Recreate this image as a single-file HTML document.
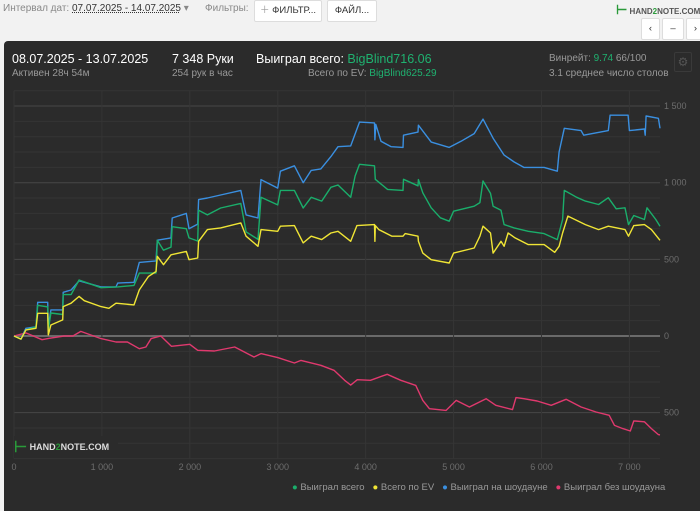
<!DOCTYPE html>
<html><head><meta charset="utf-8">
<style>
body{margin:0;width:700px;height:502px;overflow:hidden;background:#f2f2f2;font-family:"Liberation Sans","Noto Sans CJK SC",sans-serif;position:relative}
.abs{position:absolute;white-space:nowrap}
.top{font-size:10px;color:#888}
.btn{position:absolute;background:#fff;border:1px solid #ddd;border-radius:2px;font-size:9.5px;color:#333;text-align:center;line-height:20px;height:20px}
#panel{position:absolute;left:4px;top:41px;width:700px;height:470px;background:#2b2b2b;border-radius:4px 0 0 0}
.w{color:#fff}.g{color:#1fb270}.gr{color:#999}
</style></head><body>
<div class="abs top" style="left:3px;top:3px">Интервал дат: <span style="color:#333;text-decoration:underline dotted">07.07.2025 - 14.07.2025</span> ▾</div>
<div class="abs top" style="left:205px;top:3px">Фильтры:</div>
<div class="btn" style="left:254px;top:0;width:66px"><span style="color:#999">＋</span> ФИЛЬТР...</div>
<div class="btn" style="left:327px;top:0;width:48px">ФАЙЛ...</div>
<div class="abs" style="left:616px;top:2px;font-size:8px;font-weight:bold;color:#555"><span style="color:#2a9a3a;font-size:13px">⊢</span> HAND<span style="color:#2a9a3a">2</span>NOTE.COM</div>
<div class="btn" style="left:641px;top:18px;width:17px">‹</div>
<div class="btn" style="left:662px;top:18px;width:20px">–</div>
<div class="btn" style="left:686px;top:18px;width:17px">›</div>
<div id="panel"></div>
<div class="abs w" style="left:12px;top:52px;font-size:12.5px">08.07.2025 - 13.07.2025</div>
<div class="abs gr" style="left:12px;top:68px;font-size:10px">Активен 28ч 54м</div>
<div class="abs w" style="left:172px;top:52px;font-size:12.5px">7 348 Руки</div>
<div class="abs gr" style="left:172px;top:68px;font-size:10px">254 рук в час</div>
<div class="abs w" style="left:256px;top:52px;font-size:12.5px">Выиграл всего: <span class="g">BigBlind716.06</span></div>
<div class="abs gr" style="left:308px;top:68px;font-size:10px">Всего по EV: <span class="g">BigBlind625.29</span></div>
<div class="abs gr" style="left:549px;top:53px;font-size:10px">Винрейт: <span class="g">9.74</span> 66/100</div>
<div class="abs gr" style="left:549px;top:68px;font-size:10px">3.1 среднее число столов</div>
<div class="abs" style="left:674px;top:52px;width:16px;height:18px;border:1px solid #3a3a3a;border-radius:2px;color:#555;font-size:12px;text-align:center;line-height:18px">⚙</div>
<svg id="chart" class="abs" style="left:0;top:0" width="700" height="502"></svg>
<script>
const xTicks=[0,1000,2000,3000,4000,5000,6000,7000];
const yTicks=[1500,1000,500,0,-500];
const blueH=[0,80,135,250,270,383,390,420,554,560,650,740,990,1160,1180,1365,1425,1615,1630,1786,1800,1960,1990,2090,2100,2200,2350,2580,2640,2775,2810,3000,3030,3190,3290,3380,3490,3605,3685,3830,3930,4100,4105,4115,4175,4290,4425,4430,4595,4600,4745,4950,5085,5235,5335,5450,5575,5690,5800,6030,6180,6200,6260,6450,6480,6760,6780,6985,7000,7170,7180,7190,7330,7348];
const blueV=[0,-20,50,60,220,220,60,170,170,285,300,360,320,320,345,350,480,490,625,640,770,800,700,730,890,900,920,950,790,770,1020,965,1075,1110,1000,1080,1090,1170,1235,1240,1395,1390,1280,1380,1270,1235,1230,1310,1330,1375,1265,1230,1270,1320,1415,1290,1180,1135,1100,1100,1075,1200,1355,1340,1310,1340,1440,1440,1340,1350,1310,1435,1420,1355];
const greenH=[0,80,135,250,270,383,390,420,554,560,650,740,990,1180,1365,1425,1615,1630,1700,1786,1800,1960,1990,2090,2100,2200,2350,2580,2640,2775,2810,3000,3030,3190,3290,3380,3500,3605,3685,3830,3880,3930,4100,4110,4250,4425,4430,4595,4600,4650,4745,4850,4950,5000,5235,5300,5335,5420,5450,5540,5575,5690,5850,6030,6180,6240,6260,6400,6500,6650,6760,6850,6950,6990,7050,7170,7200,7300,7348];
const greenV=[0,-20,40,60,200,190,40,150,140,270,270,365,315,320,330,410,410,625,560,580,713,700,640,620,820,790,835,865,680,630,905,855,950,950,835,905,880,970,985,905,1044,1120,1110,1022,956,950,1022,980,1020,934,836,771,749,814,847,870,1011,930,847,820,727,705,683,668,629,760,950,905,880,858,902,830,836,727,786,760,836,760,716];
const yellowH=[0,80,135,250,270,383,390,420,554,560,650,740,800,990,1080,1160,1365,1425,1530,1615,1630,1700,1786,1960,1990,2090,2100,2200,2350,2580,2640,2775,2810,3000,3030,3190,3290,3380,3500,3605,3685,3830,3900,4100,4105,4110,4150,4300,4425,4450,4595,4600,4650,4745,4950,5000,5235,5300,5335,5420,5450,5540,5575,5620,5700,5850,6030,6150,6200,6240,6300,6500,6650,6760,6950,6990,7050,7170,7250,7348];
const yellowV=[0,-20,40,50,148,148,7,72,105,192,214,258,230,192,181,214,203,301,389,421,520,465,530,552,498,509,618,694,705,738,651,585,694,683,716,720,607,651,629,672,683,618,720,727,618,720,694,651,651,668,651,618,541,498,476,541,574,651,716,672,541,618,585,672,640,596,596,546,585,672,782,727,694,716,694,651,720,727,694,624];
const pinkH=[0,135,320,400,570,670,760,990,1160,1290,1425,1500,1560,1670,1790,2000,2090,2280,2510,2730,2810,3000,3190,3265,3490,3640,3760,3830,3905,4055,4245,4400,4570,4650,4725,4915,5030,5180,5370,5480,5670,5710,5800,5950,6110,6280,6450,6620,6770,6830,6925,7010,7050,7170,7250,7330,7348];
const pinkV=[0,20,-24,-15,0,0,30,-17,-39,-39,-83,-72,-17,0,-67,-54,-93,-98,-72,-137,-115,-141,-176,-159,-191,-224,-289,-320,-285,-289,-250,-289,-322,-420,-474,-485,-420,-463,-409,-452,-480,-402,-409,-424,-452,-413,-463,-496,-517,-583,-604,-620,-554,-560,-604,-643,-645];
const NS='http://www.w3.org/2000/svg';
const svg=document.getElementById('chart');
const X0=14,X1=660,XMAX=7348;
function sx(h){return X0+(X1-X0)*h/XMAX;}
function sy(v){return 336-v*0.1533;}
function mk(tag,attrs){const e=document.createElementNS(NS,tag);for(const k in attrs)e.setAttribute(k,attrs[k]);svg.appendChild(e);return e;}
for(let v=-800;v<=1600;v+=100){
  const l=mk('line',{x1:X0,x2:X1,y1:sy(v),y2:sy(v),stroke:v===0?'#6a6a6a':(v%500===0?'#474747':'#353535'),'stroke-width':v===0?2:1});
  
  
}
xTicks.forEach(t=>{
  const l=mk('line',{x1:sx(t),x2:sx(t),y1:sy(1600),y2:sy(-800),stroke:'#353535'});
  
  
  const tx=mk('text',{x:sx(t),y:470,fill:'#6d6d6d','font-size':'9','text-anchor':'middle','font-family':'Liberation Sans, sans-serif'});
  tx.textContent=t===0?'0':(t/1000)+' 000';
  
  
});
yTicks.forEach(t=>{
  const tx=mk('text',{x:664,y:sy(t)+3,fill:'#6d6d6d','font-size':'9','font-family':'Liberation Sans, sans-serif'});
  tx.textContent=Math.abs(t)>=1000?(Math.floor(Math.abs(t)/1000)+' '+String(Math.abs(t)%1000).padStart(3,'0')):String(Math.abs(t));
  
  
});
function line(H,V,color,name){
  const p=mk('polyline',{points:H.map((h,i)=>sx(h).toFixed(1)+','+sy(V[i]).toFixed(1)).join(' '),fill:'none',stroke:color,'stroke-width':1.4,'stroke-linejoin':'round'});
  
  
}
line(pinkH,pinkV,'#e0396e','line-won-without-showdown');
line(blueH,blueV,'#3a8fe0','line-won-at-showdown');
line(greenH,greenV,'#1aae6b','line-won-total');
line(yellowH,yellowV,'#f0e535','line-ev-total');
</script>
<div class="abs" style="left:14px;top:436px;width:104px;height:22px;background:#2b2b2b;font-size:9px;font-weight:bold;color:#ddd;line-height:22px"><span style="color:#2a9a3a;font-size:15px;vertical-align:-2px">⊢</span> HAND<span style="color:#2a9a3a">2</span>NOTE.COM</div>
<div class="abs" style="left:292px;top:482px;font-size:9.5px;color:#999">
<span><span style="color:#1aae6b">●</span> Выиграл всего</span>&nbsp;&nbsp;
<span><span style="color:#f0e535">●</span> Всего по EV</span>&nbsp;&nbsp;
<span><span style="color:#3a8fe0">●</span> Выиграл на шоудауне</span>&nbsp;&nbsp;
<span><span style="color:#e0396e">●</span> Выиграл без шоудауна</span></div>
</body></html>
